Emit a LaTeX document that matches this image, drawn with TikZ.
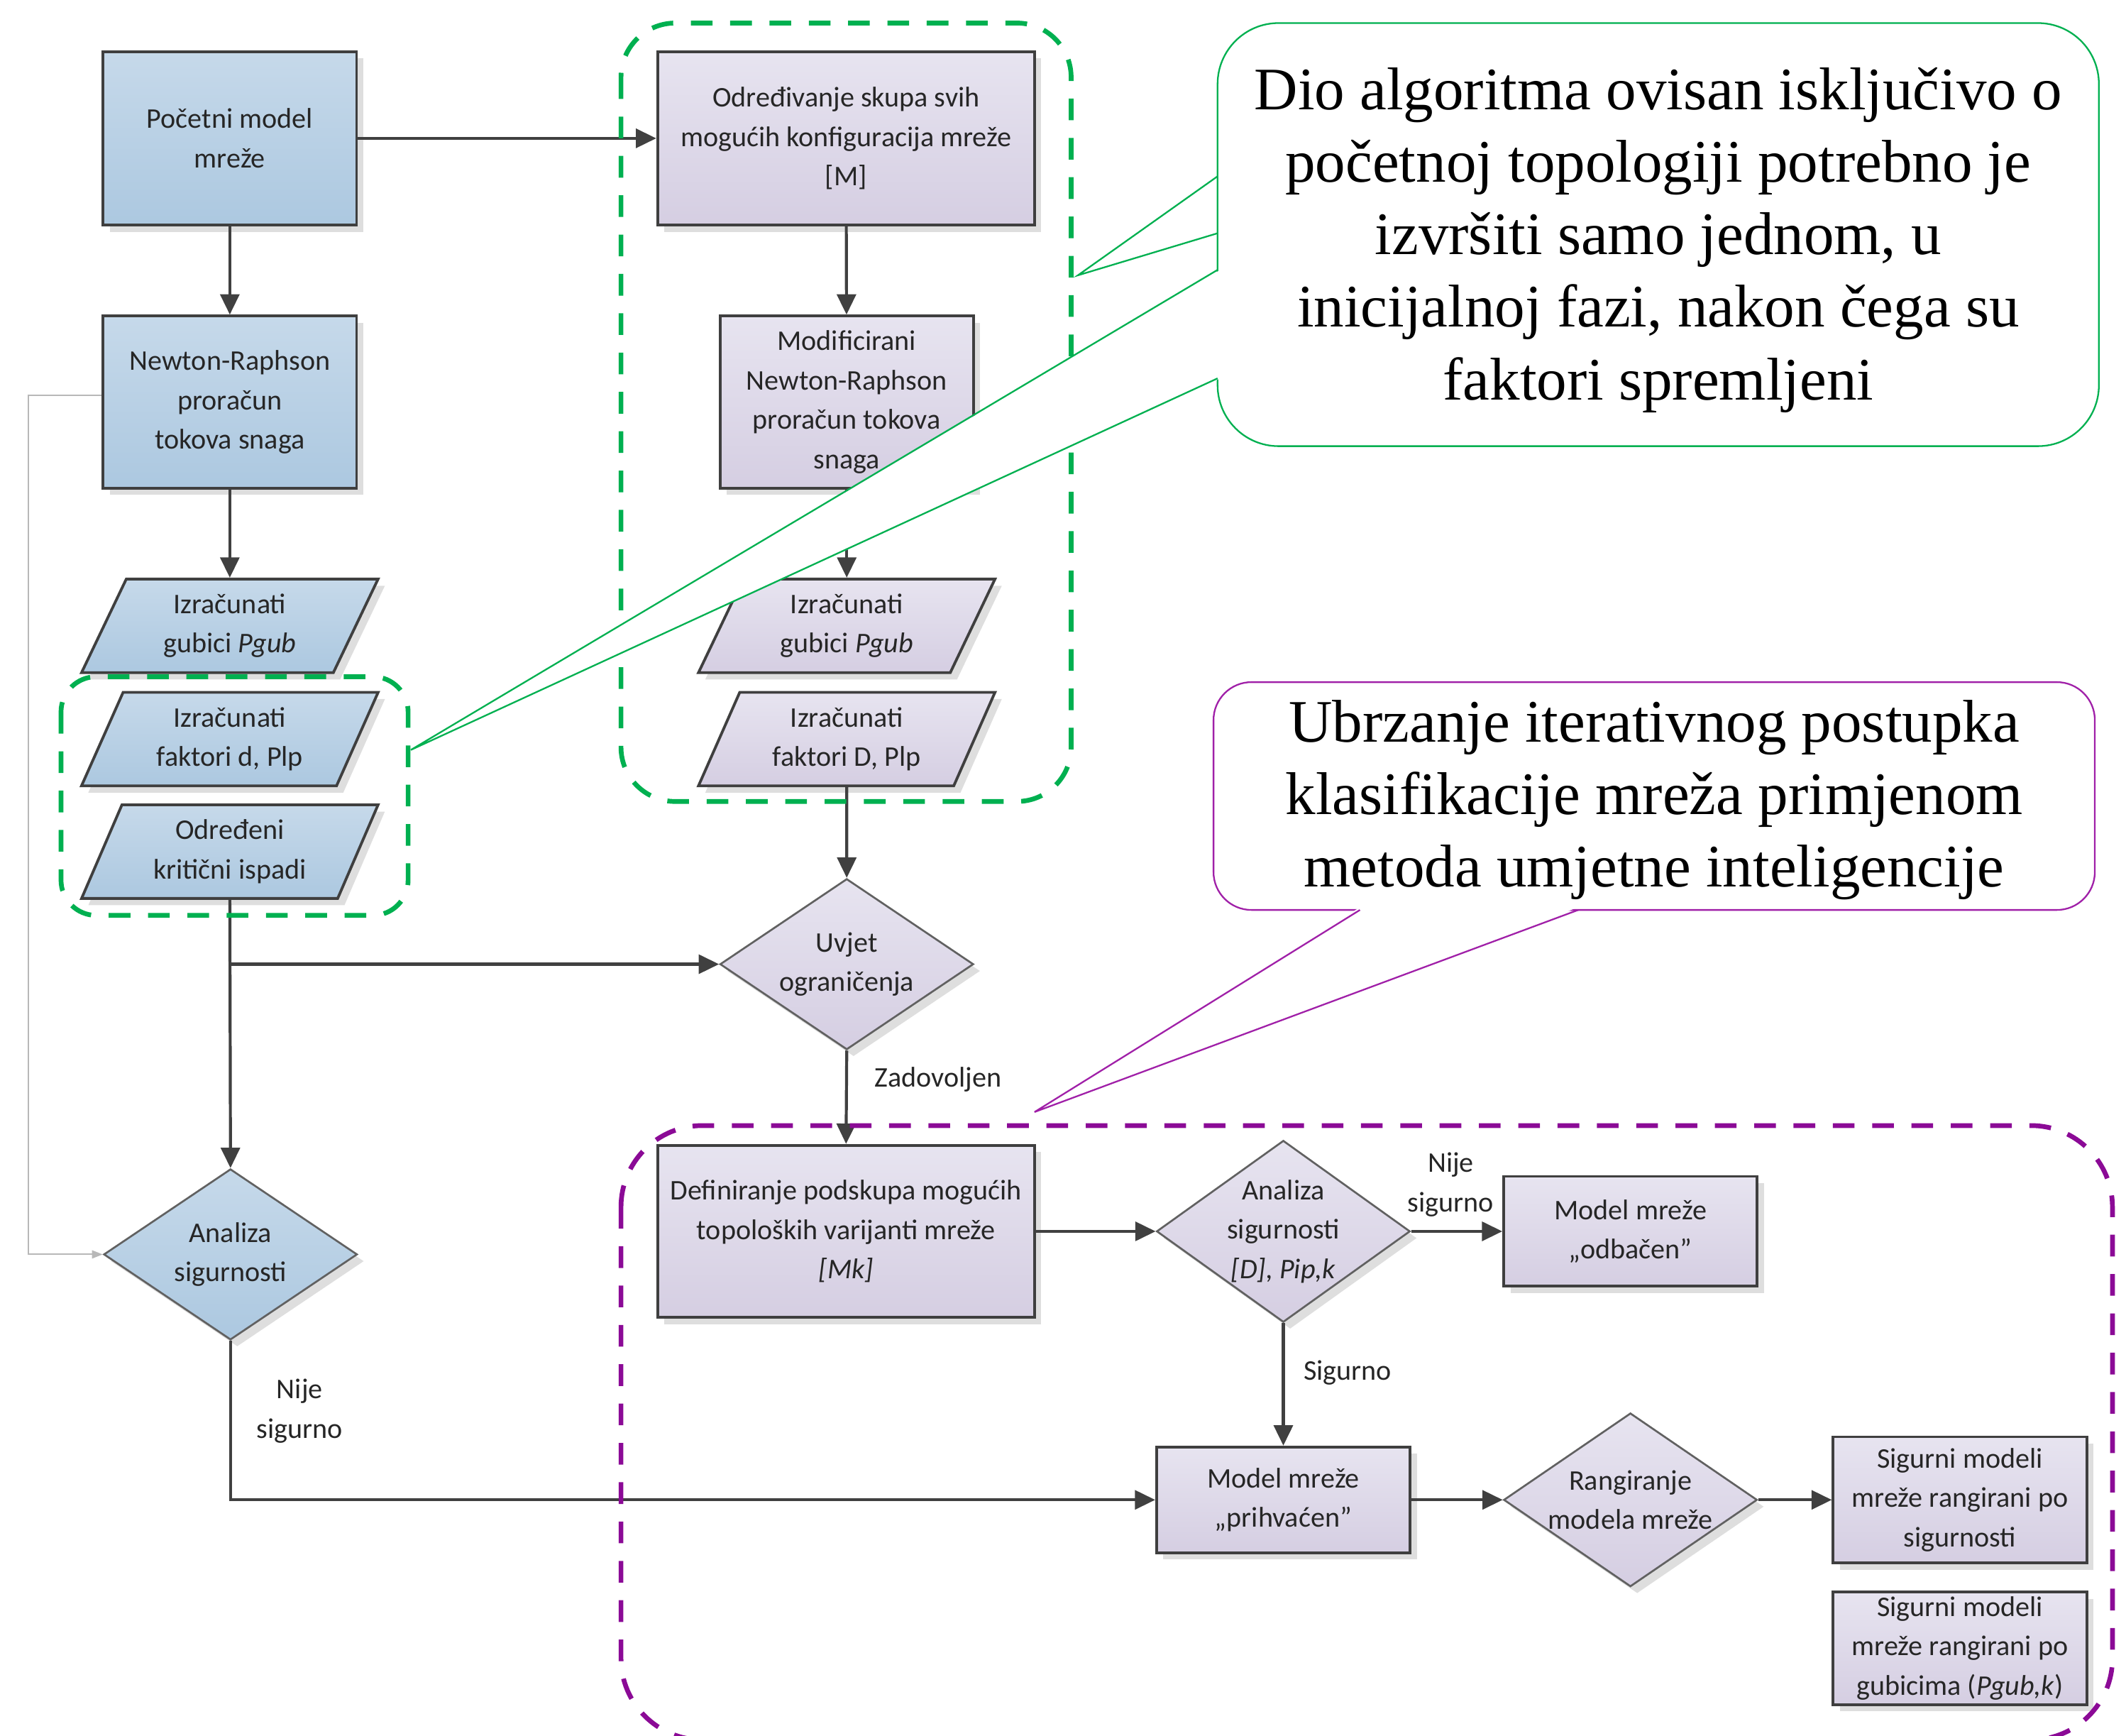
\documentclass[tikz,border=0pt]{standalone}
\usepackage{fontspec}
\setmainfont{Carlito}
\newfontfamily\tnr{Liberation Serif}
\usetikzlibrary{shapes.geometric,shadows,arrows.meta,calc}
\definecolor{bluetop}{HTML}{C6D9EA}
\definecolor{bluebot}{HTML}{ACC8E0}
\definecolor{purtop}{HTML}{E7E4F0}
\definecolor{purbot}{HTML}{D5CEE2}
\definecolor{edgec}{HTML}{3F3F3F}
\definecolor{arrowc}{HTML}{404040}
\definecolor{grn}{HTML}{00B050}
\definecolor{prp}{HTML}{8B0A96}
\definecolor{prpthin}{HTML}{A020A8}
\definecolor{txtc}{HTML}{262626}
\begin{document}
\begin{tikzpicture}[x=1pt,y=-1pt,
  every node/.style={font=\fontsize{21}{29}\selectfont, text=txtc},
  base/.style={draw=edgec, line width=2pt, inner sep=0pt, align=center,
    drop shadow={shadow xshift=5pt, shadow yshift=-5pt, fill=black!13, opacity=1}},
  bluebox/.style={base, rectangle, top color=bluetop, bottom color=bluebot},
  purbox/.style={base, rectangle, top color=purtop, bottom color=purbot},
  parashape/.style={base, trapezium, trapezium left angle=65.8, trapezium right angle=114.2,
    trapezium stretches=true, minimum width=219pt, minimum height=69pt},
  bluepara/.style={parashape, top color=bluetop, bottom color=bluebot},
  purpara/.style={parashape, top color=purtop, bottom color=purbot},
  diashape/.style={base, diamond, draw=black!62, line width=1.4pt, minimum width=187pt, minimum height=126pt},
  bluedia/.style={diashape, top color=bluetop, bottom color=bluebot},
  purdia/.style={diashape, top color=purtop, bottom color=purbot},
  arr/.style={draw=arrowc, line width=2.2pt, -{Triangle[length=15pt,width=14pt]}},
  thinarr/.style={draw=black!28, line width=1pt, -{Triangle[length=8pt,width=6pt]}},
  lbl/.style={align=center, inner sep=0pt},
  grnbox/.style={draw=grn, line width=3.5pt, dash pattern=on 16pt off 13pt},
  prpbox/.style={draw=prp, line width=3.5pt, dash pattern=on 16pt off 13pt},
  gline/.style={draw=grn, line width=1.2pt},
  pline/.style={draw=prpthin, line width=1.2pt},
  calltext/.style={font=\tnr\fontsize{44.5}{53.5}\selectfont, text=black, align=center, inner sep=0pt}
]
\path[use as bounding box] (0,0) rectangle (1568,1280);
\clip (0,0) rectangle (1568,1280);

% left column
\node[bluebox, minimum width=187pt, minimum height=128pt] (b1) at (169.5,102) {Početni model\\ mreže};
\node[bluebox, minimum width=187pt, minimum height=127pt] (b2) at (169.5,296.5) {Newton-Raphson\\ proračun\\ tokova snaga};
\node[bluepara] (p1) at (169.5,461.5) {Izračunati\\ gubici \textit{Pgub}};
\node[bluepara] (p2) at (169.5,545) {Izračunati\\ faktori d, Plp};
\node[bluepara] (p3) at (169.5,628) {Određeni\\ kritični ispadi};
\node[bluedia] (d1) at (170,925) {};
\node[lbl] (d1t) at (d1) {Analiza\\ sigurnosti};

% middle column
\node[purbox, minimum width=278pt, minimum height=128pt] (b3) at (624,102) {Određivanje skupa svih\\ mogućih konfiguracija mreže\\ {[M]}};
\node[purbox, minimum width=187pt, minimum height=127pt] (b4) at (624.5,296.5) {Modificirani\\ Newton-Raphson\\ proračun tokova\\ snaga};
\node[purpara] (p4) at (624.5,461.5) {Izračunati\\ gubici \textit{Pgub}};
\node[purpara] (p5) at (624.5,545) {Izračunati\\ faktori D, Plp};
\node[purdia] (d2) at (624.5,711) {};
\node[lbl] (d2t) at (d2) {Uvjet\\ ograničenja};
\node[purbox, minimum width=278pt, minimum height=127pt] (b5) at (624,908) {Definiranje podskupa mogućih\\ topoloških varijanti mreže\\ \textit{[Mk]}};
\node[purdia, minimum height=134pt] (d3) at (946.5,908) {};
\node[lbl] (d3t) at (d3) {Analiza\\ sigurnosti\\ \textit{[D], Pip,k}};
\node[purbox, minimum width=187pt, minimum height=81pt] (b6) at (1202.5,908) {Model mreže\\ „odbačen”};
\node[purbox, minimum width=187pt, minimum height=78pt] (b7) at (946.5,1106) {Model mreže\\ „prihvaćen”};
\node[purdia, minimum height=128pt] (d4) at (1202.5,1106) {};
\node[lbl] (d4t) at (d4) {Rangiranje\\ modela mreže};
\node[purbox, minimum width=187pt, minimum height=93pt] (b8) at (1445.5,1106) {Sigurni modeli\\ mreže rangirani po\\ sigurnosti};
\node[purbox, minimum width=187pt, minimum height=83pt] (b9) at (1445.5,1215.5) {Sigurni modeli\\ mreže rangirani po\\ gubicima (\textit{Pgub,k})};

% connectors
\draw[arr] (b1) -- (b3);
\draw[arr] (b1) -- (b2);
\draw[arr] (b2) -- (p1);
\draw[thinarr] ([yshift=5pt]b2.west) -- ++(-54,0) |- (d1.west);
\draw[arr] (p3.south) -- (d1.north);
\coordinate (jn) at (p3.south |- d2.west);
\draw[arr] (jn) -- (d2.west);
\draw[arr] (d1.south) |- (b7.west);
\draw[arr] (b3) -- (b4);
\draw[arr] (b4) -- (p4);
\draw[arr] (p5.south) -- (d2.north);
\draw[arr] (d2.south) -- (b5.north);
\draw[arr] (b5) -- (d3);
\draw[arr] (d3) -- (b6);
\draw[arr] (d3.south) -- (b7.north);
\draw[arr] (b7) -- (d4);
\draw[arr] (d4) -- (b8);

% labels
\node[lbl] (l1) at (221,1040.5) {Nije\\ sigurno};
\node[lbl] (l2) at (692,796) {Zadovoljen};
\node[lbl] (l3) at (1070,873.5) {Nije\\ sigurno};
\node[lbl] (l4) at (994,1012) {Sigurno};

% dashed groups
\draw[grnbox, rounded corners=40pt] (458,17) rectangle (790,591);
\draw[grnbox, rounded corners=26pt] (45,499) rectangle (301,675);
\draw[prpbox, rounded corners=60pt] (458,830) rectangle (1558,1283);

% green callout
\fill[white] (900,130) -- (795,203) -- (900,172) -- cycle;
\draw[gline] (898,130) -- (795,203) -- (898,172);
\draw[gline, fill=white, rounded corners=45pt] (898,17) rectangle (1548,329);
\fill[white] (900,199) -- (303,553) -- (900,279) -- cycle;
\draw[gline] (898,199) -- (303,553) -- (898,279);
\node[calltext] (ca) at (1223,177) {Dio algoritma ovisan isključivo o\\ početnoj topologiji potrebno je\\ izvršiti samo jednom, u\\ inicijalnoj fazi, nakon čega su\\ faktori spremljeni};

% purple callout
\draw[pline, fill=white, rounded corners=28pt] (895,503) rectangle (1545,671);
\fill[white] (1003,669) -- (763,820) -- (1164,669) -- cycle;
\draw[pline] (1003,671) -- (763,820) -- (1164,671);
\node[calltext] (cb) at (1220,590) {Ubrzanje iterativnog postupka\\ klasifikacije mreža primjenom\\ metoda umjetne inteligencije};
\end{tikzpicture}
\end{document}
